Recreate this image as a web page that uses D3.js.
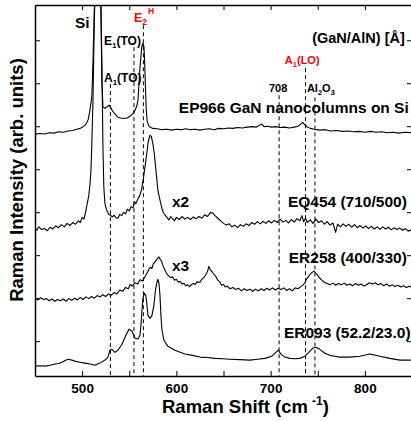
<!DOCTYPE html>
<html>
<head>
<meta charset="utf-8">
<script src="https://cdn.jsdelivr.net/npm/d3@7"></script>
<style>
  body { margin: 0; background: #fff; }
  svg { display: block; font-family: "Liberation Sans", Arial, sans-serif; font-weight: bold; }
</style>
</head>
<body>
<div id="chart"></div>
<script>
// Raman spectra, stacked (arb. units), shift in cm-1
var ep966 = [
  [450, 4.81], [455, 4.83], [460, 4.82], [465, 4.85], [470, 4.84], [475, 4.87], [480, 4.86],
  [485, 4.89], [490, 4.90], [494, 4.93], [498, 4.95], [501, 4.99], [503, 5.02], [505, 5.08],
  [506.5, 5.16], [508.3, 5.37], [510.4, 5.72], [511.5, 6.5], [513, 7.8], [515.5, 9.8], [518, 9.8],
  [520, 7.6], [521, 6.0], [522.1, 5.45], [524.2, 5.42], [526, 5.44], [527.5, 5.47], [528.5, 5.49],
  [530, 5.45], [532, 5.36], [535, 5.28], [538, 5.21], [541, 5.19], [544, 5.18], [547.6, 5.19],
  [550.7, 5.23], [553.9, 5.30], [556.1, 5.37], [558, 5.47], [559.2, 5.6], [560.3, 5.95],
  [561.4, 6.37], [562.4, 6.62], [563.2, 6.84], [564.5, 6.93], [565.6, 6.85], [566.4, 6.45],
  [567.2, 5.9], [568, 5.4], [569, 5.12], [570.5, 5.02], [572, 4.98], [575, 4.95], [580, 4.94],
  [585, 4.92], [590, 4.93], [595, 4.91], [600, 4.93], [605, 4.92], [610, 4.94], [615, 4.92],
  [620, 4.93], [625, 4.91], [630, 4.93], [635, 4.94], [640, 4.92], [645, 4.95], [650, 4.94],
  [655, 4.96], [660, 4.95], [665, 4.97], [670, 4.96], [675, 4.98], [680, 4.99], [685, 4.98],
  [688, 5.02], [690.7, 5.05], [693, 4.99], [697, 5.00], [701, 4.98], [705, 4.99], [710, 4.97],
  [715, 4.98], [720, 4.96], [725, 4.98], [729, 5.0], [732, 5.05], [734, 5.09], [736, 5.04],
  [738.5, 4.99], [742, 4.95], [746, 4.93], [752, 4.91], [758, 4.92], [764, 4.89], [770, 4.90],
  [776, 4.88], [782, 4.89], [788, 4.87], [794, 4.88], [800, 4.86], [806, 4.88], [812, 4.86],
  [818, 4.87], [824, 4.85], [830, 4.86], [836, 4.84], [842, 4.86], [849, 4.85]
];

var eq454 = [
  [450, 2.63], [452, 2.58], [454, 2.66], [457, 2.60], [460, 2.62], [463, 2.57], [466, 2.65],
  [469, 2.61], [472, 2.68], [475, 2.64], [478, 2.71], [481, 2.66], [484, 2.74], [487, 2.69],
  [490, 2.76], [493, 2.72], [496, 2.80], [498, 2.76], [500, 2.88], [502, 2.84], [503.5, 2.98],
  [505, 3.15], [507, 3.38], [508.3, 3.63], [509.4, 3.98], [510.4, 4.67], [511.5, 5.6], [513, 7.5],
  [516, 9.8], [519.5, 8.5], [521, 6.4], [522.1, 4.5], [523, 3.6], [524.2, 3.2], [526, 3.05],
  [528, 2.96], [530, 2.93], [532, 2.89], [534, 2.93], [536, 2.87], [538, 2.86], [540, 2.95],
  [542, 2.92], [544, 3.00], [546, 2.96], [548, 3.07], [550, 3.03], [552, 3.13], [554, 3.10],
  [555.5, 3.24], [557, 3.20], [559, 3.30], [561, 3.38], [563, 3.52], [565, 3.78], [567, 4.10],
  [568.8, 4.40], [570, 4.62], [571, 4.72], [572, 4.79], [573.5, 4.76], [575, 4.60], [576.5, 4.38],
  [578.3, 3.98], [580.4, 3.51], [582.6, 3.28], [584.7, 3.09], [586, 3.00], [588, 2.93], [590, 2.88],
  [592, 2.82], [594, 2.90], [596, 2.85], [598, 2.80], [600, 2.88], [603, 2.83], [606, 2.90],
  [609, 2.84], [612, 2.88], [615, 2.83], [618, 2.89], [621, 2.85], [624, 2.90], [627, 2.86],
  [630, 2.94], [633, 2.90], [636, 2.99], [638.8, 2.98], [641, 2.92], [644, 2.86], [647, 2.80],
  [650, 2.74], [653, 2.70], [656, 2.73], [659, 2.66], [662, 2.70], [665, 2.64], [668, 2.71],
  [671, 2.67], [674, 2.73], [677, 2.69], [680, 2.76], [683, 2.72], [686, 2.78], [689, 2.73],
  [692, 2.79], [695, 2.74], [698, 2.80], [701, 2.75], [704, 2.81], [707, 2.76], [710, 2.84],
  [713, 2.77], [716, 2.81], [719, 2.75], [722, 2.83], [725, 2.77], [728, 2.85], [731, 2.80],
  [733.2, 2.92], [735, 2.78], [737, 2.86], [739, 2.76], [742, 2.82], [745, 2.74], [748, 2.84],
  [751, 2.76], [754, 2.80], [757, 2.72], [760, 2.78], [763, 2.70], [766, 2.75], [769, 2.53],
  [771, 2.72], [774, 2.66], [777, 2.73], [780, 2.67], [783, 2.72], [786, 2.65], [789, 2.71],
  [792, 2.64], [795, 2.69], [798, 2.63], [801, 2.68], [804, 2.62], [807, 2.67], [810, 2.61],
  [813, 2.66], [816, 2.60], [819, 2.66], [822, 2.61], [825, 2.65], [828, 2.59], [831, 2.64],
  [834, 2.60], [837, 2.63], [840, 2.58], [843, 2.62], [846, 2.56], [849, 2.59]
];

var er258 = [
  [450, 1.00], [453, 0.96], [456, 1.01], [459, 0.97], [462, 0.99], [465, 0.94], [468, 0.98],
  [471, 0.93], [474, 0.97], [477, 0.94], [480, 0.98], [483, 0.93], [486, 0.99], [489, 0.95],
  [492, 1.00], [495, 0.96], [498, 1.02], [501, 0.97], [504, 1.03], [507, 0.99], [510, 1.04],
  [513, 1.00], [516, 1.06], [519, 1.03], [522, 1.08], [525, 1.04], [528, 1.10], [531, 1.07],
  [534, 1.13], [537, 1.10], [540, 1.19], [543, 1.16], [546, 1.25], [549, 1.22], [551, 1.32],
  [553, 1.28], [556, 1.36], [559, 1.33], [561.4, 1.43], [564, 1.40], [566.7, 1.50], [568, 1.55],
  [569.8, 1.62], [571, 1.68], [572.5, 1.72], [574, 1.69], [575.5, 1.80], [577, 1.84], [578.5, 1.88],
  [580, 1.92], [581.5, 1.96], [583, 1.90], [584.5, 1.85], [586, 1.74], [588, 1.65], [590, 1.56],
  [592, 1.52], [594, 1.48], [596, 1.50], [598, 1.42], [600, 1.44], [602, 1.37], [604, 1.39],
  [606, 1.33], [608, 1.35], [610, 1.29], [612, 1.31], [614, 1.27], [616, 1.32], [618, 1.34],
  [620, 1.32], [622, 1.38], [625, 1.37], [627, 1.44], [629, 1.48], [631, 1.54], [633, 1.62],
  [634.5, 1.74], [636, 1.66], [638, 1.61], [640, 1.55], [642, 1.50], [644, 1.42], [646, 1.38],
  [648, 1.30], [650, 1.32], [652, 1.26], [654, 1.28], [657, 1.22], [660, 1.25], [663, 1.20],
  [666, 1.23], [669, 1.17], [672, 1.22], [675, 1.18], [678, 1.21], [681, 1.16], [684, 1.21],
  [687, 1.17], [690, 1.22], [693, 1.18], [696, 1.23], [699, 1.19], [702, 1.24], [705, 1.19],
  [708, 1.23], [711, 1.20], [714, 1.24], [717, 1.18], [720, 1.22], [723, 1.17], [726, 1.24],
  [729, 1.22], [732, 1.27], [734.5, 1.31], [736.5, 1.36], [738, 1.44], [740, 1.50], [742, 1.56],
  [744, 1.60], [746, 1.63], [748, 1.58], [750, 1.53], [752, 1.47], [754.4, 1.42], [757, 1.37],
  [760, 1.34], [763, 1.31], [766, 1.35], [769, 1.30], [772, 1.34], [775, 1.31], [778, 1.35],
  [781, 1.30], [784, 1.33], [787, 1.29], [790, 1.34], [793, 1.30], [796, 1.33], [799, 1.28],
  [802, 1.32], [805, 1.36], [808, 1.33], [811, 1.36], [814, 1.31], [817, 1.34], [820, 1.29],
  [823, 1.33], [826, 1.28], [829, 1.31], [832, 1.27], [835, 1.30], [838, 1.26], [841, 1.29],
  [844, 1.25], [847, 1.28], [849, 1.26]
];

var er093 = [
  [450, -0.58], [455, -0.57], [460.6, -0.58], [465.9, -0.56], [471.2, -0.53], [475, -0.52],
  [478.6, -0.49], [482, -0.45], [485, -0.42], [489.2, -0.44], [493, -0.47], [497.7, -0.49],
  [503, -0.51], [508.3, -0.53], [513.6, -0.56], [518.9, -0.51], [524.2, -0.44], [527.4, -0.37],
  [529.5, -0.21], [531.7, -0.19], [534.8, -0.26], [538, -0.21], [542.3, -0.07], [546.5, 0.14],
  [549.7, 0.28], [552.9, 0.23], [556.1, 0.07], [559.2, 0.05], [561.4, 0.14], [562.4, 0.37],
  [563.5, 0.72], [564.5, 1.00], [566.1, 1.12], [567.7, 1.05], [568.8, 0.84], [569.8, 0.60],
  [572, 0.53], [574.1, 0.60], [576.2, 0.84], [577.8, 1.19], [579.4, 1.37], [580.4, 1.44],
  [581.5, 1.35], [582.6, 1.07], [583.6, 0.60], [584.7, 0.26], [586.8, 0.02], [591, -0.12],
  [598.5, -0.21], [604, -0.26], [609.1, -0.30], [617, -0.33], [625, -0.37], [633, -0.38],
  [640.9, -0.40], [649, -0.41], [656.8, -0.42], [667, -0.43], [678, -0.44], [686, -0.42],
  [693.9, -0.40], [701.3, -0.35], [705.6, -0.26], [708.2, -0.21], [710.9, -0.30], [715.1, -0.37],
  [720.4, -0.40], [726, -0.41], [731, -0.40], [736.3, -0.35], [740.6, -0.26], [744.8, -0.16],
  [748, -0.14], [752.2, -0.19], [757.5, -0.28], [762.8, -0.33], [768, -0.35], [773.5, -0.37],
  [784.1, -0.37], [794.7, -0.35], [805.3, -0.30], [815.9, -0.35], [826.5, -0.40], [837.1, -0.44],
  [848.7, -0.44]
];

var spectra = [ep966, eq454, er258, er093];

// phonon mode positions (cm-1) marked with dashed lines
var modeShift = [530, 555, 565, 709, 737, 747];

var xTicks = [450, 500, 550, 600, 650, 700, 750, 800, 850];
var yTicks = [0, 1, 2, 3, 4, 5, 6, 7];

var svgWidth = 411;
var svgHeight = 421;
var margin = { top: 5, right: -1, bottom: 45, left: 35 };
var width = svgWidth - margin.left - margin.right;
var height = svgHeight - margin.top - margin.bottom;

var svg = d3.select("#chart")
  .append("svg")
  .attr("width", svgWidth)
  .attr("height", svgHeight);

svg.append("rect").attr("width", svgWidth).attr("height", svgHeight).attr("fill", "#fff");

var chartGroup = svg.append("g")
  .attr("transform", `translate(${margin.left}, ${margin.top})`);

var xScale = d3.scaleLinear().domain([450, 850]).range([0, width]);
var yScale = d3.scaleLinear().domain([-0.81, 7.82]).range([height, 0]);

chartGroup.append("clipPath").attr("id", "plotclip")
  .append("rect").attr("width", width).attr("height", height);

// dashed mode lines
var modeTop = [5.98, 6.84, 7.35, 5.72, 6.35, 5.67];
chartGroup.selectAll(".mode")
  .data(modeShift)
  .enter()
  .append("line")
  .attr("class", "mode")
  .attr("x1", d => xScale(d))
  .attr("x2", d => xScale(d))
  .attr("y1", (d, i) => yScale(modeTop[i]))
  .attr("y2", height)
  .attr("stroke", "#000")
  .attr("stroke-width", 1)
  .attr("stroke-dasharray", "4,3");

// spectra
var line = d3.line()
  .x(d => xScale(d[0]))
  .y(d => yScale(d[1]));

chartGroup.append("g")
  .attr("clip-path", "url(#plotclip)")
  .selectAll("path")
  .data(spectra)
  .enter()
  .append("path")
  .attr("d", line)
  .attr("fill", "none")
  .attr("stroke", "#000")
  .attr("stroke-width", 1.1)
  .attr("stroke-linejoin", "round");

// axes, ticks all point inward
var xAxisBottom = d3.axisBottom(xScale).tickValues(xTicks)
  .tickSizeInner(-5).tickSizeOuter(0).tickPadding(7)
  .tickFormat(d => (d % 100 === 0 ? d : ""));
var xAxisTop = d3.axisTop(xScale).tickValues(xTicks)
  .tickSizeInner(-5).tickSizeOuter(0).tickFormat("");
var yAxisLeft = d3.axisLeft(yScale).tickValues(yTicks)
  .tickSizeInner(-5).tickSizeOuter(0).tickFormat("");
var yAxisRight = d3.axisRight(yScale).tickValues(yTicks)
  .tickSizeInner(-5).tickSizeOuter(0).tickFormat("");

var gx = chartGroup.append("g").attr("transform", `translate(0,${height})`).call(xAxisBottom);
chartGroup.append("g").call(xAxisTop);
chartGroup.append("g").call(yAxisLeft);
chartGroup.append("g").attr("transform", `translate(${width},0)`).call(yAxisRight);

chartGroup.selectAll(".domain").attr("stroke", "#000").attr("stroke-width", 1.5);
chartGroup.selectAll(".tick line").attr("stroke", "#000").attr("stroke-width", 1);
gx.selectAll("text")
  .attr("fill", "#000")
  .style("font-family", "'Liberation Sans', Arial, sans-serif")
  .style("font-weight", "bold")
  .style("font-size", "13.5px");

// annotations: parts = [text, size, dy, dx]
function note(parts, s, v, anchor, color) {
  var t = chartGroup.append("text")
    .attr("x", xScale(s))
    .attr("y", yScale(v))
    .attr("text-anchor", anchor || "start")
    .attr("fill", color || "#000");
  parts.forEach(p => {
    t.append("tspan")
      .style("font-size", p[1] + "px")
      .attr("dy", p[2] || 0)
      .attr("dx", p[3] || 0)
      .text(p[0]);
  });
  return t;
}

note([["Si", 15.5]], 492.4, 7.28);
note([["E", 12], ["1", 8, 3], ["(TO)", 12, -3]], 523.2, 6.88);
note([["A", 12], ["1", 8, 3], ["(TO)", 12, -3]], 523.2, 6.02);
note([["E", 12.5], ["2", 8.5, 3], ["H", 8.5, -11, 1]], 555, 7.42, "start", "#ff0000");
note([["(GaN/AlN) [\u00c5]", 14.5]], 842.4, 6.93, "end");
note([["A", 11], ["1", 7.5, 3], ["(LO)", 11, -3]], 715.1, 6.44, "start", "#ff0000");
note([["708", 11]], 698.2, 5.79);
note([["Al", 11], ["2", 7.5, 3], ["O", 11, -3], ["3", 7.5, 3]], 738.5, 5.79);
note([["EP966 GaN nanocolumns on Si", 15.5]], 846.6, 5.30, "end");
note([["EQ454 (710/500)", 15.5]], 844.5, 3.12, "end");
note([["ER258 (400/330)", 15.5]], 844.5, 1.81, "end");
note([["ER093 (52.2/23.0)", 15.5]], 848.5, 0.07, "end");
note([["x2", 15.5]], 595.3, 3.12);
note([["x3", 15.5]], 595.3, 1.63);

// axis titles
var xt = svg.append("text")
  .attr("x", 162)
  .attr("y", 413)
  .attr("fill", "#000");
xt.append("tspan").style("font-size", "18.5px").text("Raman Shift (cm");
xt.append("tspan").style("font-size", "12px").attr("dx", 4).attr("dy", -8).text("-1");
xt.append("tspan").style("font-size", "18.5px").attr("dy", 8).text(")");

svg.append("text")
  .attr("transform", "translate(23,180) rotate(-90)")
  .attr("text-anchor", "middle")
  .attr("fill", "#000")
  .style("font-size", "18.5px")
  .text("Raman Intensity (arb. units)");
</script>
</body>
</html>
